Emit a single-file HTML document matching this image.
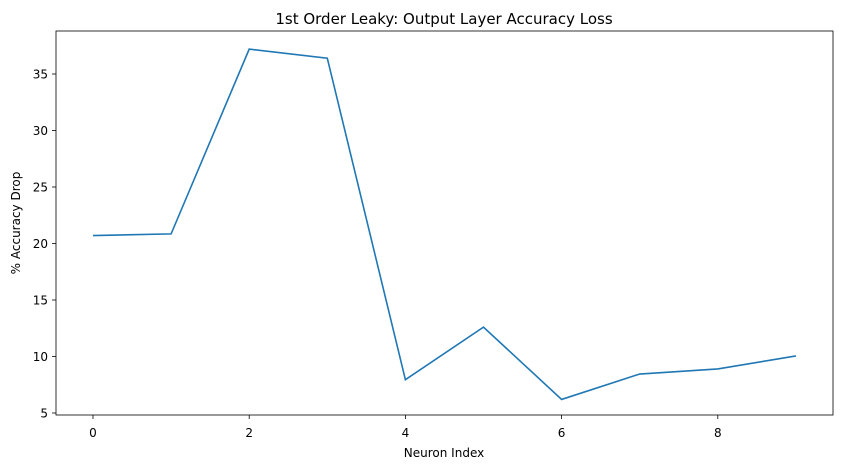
<!DOCTYPE html>
<html><head><meta charset="utf-8"><style>
body{margin:0;background:#fff;font-family:"Liberation Sans","DejaVu Sans",sans-serif}
svg text{font-family:"DejaVu Sans","Liberation Sans",sans-serif;fill:#000}
</style></head><body>
<svg id="chart" width="841" height="470" xmlns="http://www.w3.org/2000/svg">
<rect width="841" height="470" fill="#fff"/>
<text x="444" y="24" font-size="15" text-anchor="middle">1st Order Leaky: Output Layer Accuracy Loss</text>
<g id="xticks"></g>
<g id="yticks"></g>
<path id="line" fill="none" stroke="#1f77b4" stroke-width="1.6"/>
<rect x="56" y="31" width="777" height="384" fill="none" stroke="#000" stroke-width="0.8"/>
<text x="444" y="457" font-size="12" text-anchor="middle">Neuron Index</text>
<text transform="translate(20,223) rotate(-90)" font-size="12" text-anchor="middle">% Accuracy Drop</text>
</svg>
<script>
const neuronIndex=[0,1,2,3,4,5,6,7,8,9];
const accuracyDrop=[20.7,20.85,37.2,36.4,7.95,12.6,6.2,8.45,8.9,10.05];
const xTickValues=[0,2,4,6,8];
const yTickValues=[5,10,15,20,25,30,35];
const NS="http://www.w3.org/2000/svg";
function xs(v){return 93+v*78.1;}
function ys(v){return 413-(v-5)*11.3;}
const xg=document.getElementById('xticks'),yg=document.getElementById('yticks');
xTickValues.forEach(v=>{
 const l=document.createElementNS(NS,'line');
 
 
 l.setAttribute('x1',xs(v));l.setAttribute('x2',xs(v));l.setAttribute('y1',415);l.setAttribute('y2',419);l.setAttribute('stroke','#000');l.setAttribute('stroke-width','0.8');
 xg.appendChild(l);
 const t=document.createElementNS(NS,'text');
 
 
 t.setAttribute('x',xs(v));t.setAttribute('y',437);t.setAttribute('font-size','12');t.setAttribute('text-anchor','middle');t.textContent=v;
 xg.appendChild(t);
});
yTickValues.forEach(v=>{
 const l=document.createElementNS(NS,'line');
 
 
 l.setAttribute('x1',52);l.setAttribute('x2',56);l.setAttribute('y1',ys(v));l.setAttribute('y2',ys(v));l.setAttribute('stroke','#000');l.setAttribute('stroke-width','0.8');
 yg.appendChild(l);
 const t=document.createElementNS(NS,'text');
 
 
 t.setAttribute('x',48);t.setAttribute('y',ys(v)+4.5);t.setAttribute('font-size','12');t.setAttribute('text-anchor','end');t.textContent=v;
 yg.appendChild(t);
});
document.getElementById('line').setAttribute('d',neuronIndex.map((x,i)=>(i?'L':'M')+xs(x)+','+ys(accuracyDrop[i])).join(' '));
</script>
</body></html>
